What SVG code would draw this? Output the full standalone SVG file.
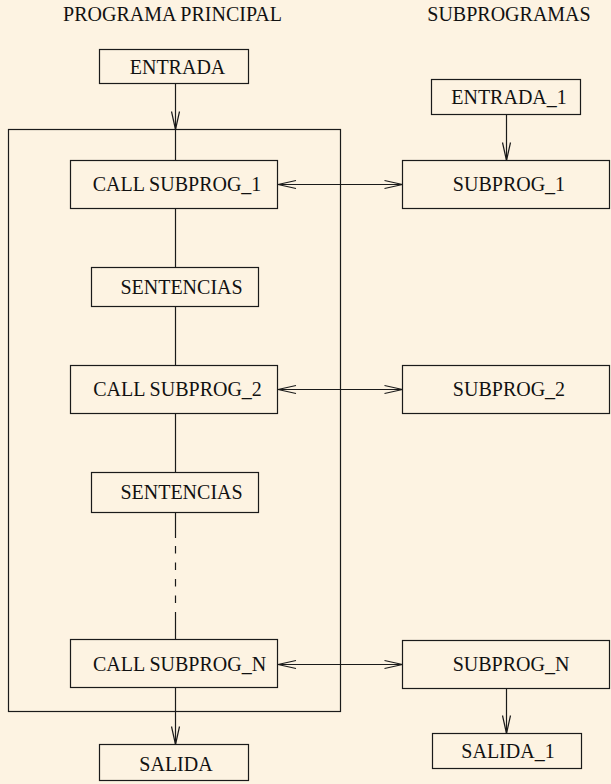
<svg xmlns="http://www.w3.org/2000/svg" width="611" height="784" viewBox="0 0 611 784">
<style>
.box{fill:none;stroke:#1a1a1a;stroke-width:1.2}
.ln{fill:none;stroke:#1a1a1a;stroke-width:1.2}
text{font-family:"Liberation Serif","Times New Roman",serif;font-size:20px;fill:#111;text-anchor:middle}
</style>
<defs>
<marker id="ah" markerUnits="userSpaceOnUse" markerWidth="24" markerHeight="12" viewBox="-20 -6 24 12" refX="0" refY="0" orient="auto-start-reverse">
<path d="M-18,-4 L0,0 L-18,4" fill="none" stroke="#1a1a1a" stroke-width="1.2"/>
</marker>
</defs>
<rect width="611" height="784" fill="#fdf3e2"/>
<g id="titles">
<text x="172.5" y="21">PROGRAMA PRINCIPAL</text>
<text x="509" y="21">SUBPROGRAMAS</text>
</g>
<g id="main-frame"><rect class="box" x="8.5" y="129.5" width="332" height="582"/></g>
<g id="entrada"><rect class="box" x="99.5" y="49.5" width="149" height="34"/><text x="177.5" y="74">ENTRADA</text></g>
<g id="call1"><rect class="box" x="70.5" y="160.5" width="207" height="48"/><text x="177" y="191">CALL SUBPROG_1</text></g>
<g id="sent1"><rect class="box" x="91.5" y="267.5" width="167" height="39"/><text x="181.5" y="294">SENTENCIAS</text></g>
<g id="call2"><rect class="box" x="70.5" y="365.5" width="207" height="48"/><text x="177.5" y="396">CALL SUBPROG_2</text></g>
<g id="sent2"><rect class="box" x="91.5" y="472.5" width="167" height="40"/><text x="181.5" y="499">SENTENCIAS</text></g>
<g id="calln"><rect class="box" x="70.5" y="639.5" width="207" height="48"/><text x="179.5" y="671">CALL SUBPROG_N</text></g>
<g id="salida"><rect class="box" x="99.5" y="744.5" width="149" height="36"/><text x="176" y="771">SALIDA</text></g>
<g id="entrada1"><rect class="box" x="431.5" y="79.5" width="149" height="35"/><text x="509" y="104">ENTRADA_1</text></g>
<g id="sub1"><rect class="box" x="402.5" y="160.5" width="207" height="48"/><text x="509" y="191">SUBPROG_1</text></g>
<g id="sub2"><rect class="box" x="402.5" y="365.5" width="207" height="48"/><text x="509" y="396">SUBPROG_2</text></g>
<g id="subn"><rect class="box" x="402.5" y="640.5" width="207" height="48"/><text x="511" y="671">SUBPROG_N</text></g>
<g id="salida1"><rect class="box" x="432.5" y="733.5" width="149" height="35"/><text x="508" y="758">SALIDA_1</text></g>
<g id="connectors">
<line class="ln" x1="175.5" y1="84" x2="175.5" y2="129.5" marker-end="url(#ah)"/>
<line class="ln" x1="175.5" y1="129.5" x2="175.5" y2="160.5"/>
<line class="ln" x1="175.5" y1="208.5" x2="175.5" y2="267.5"/>
<line class="ln" x1="175.5" y1="306.5" x2="175.5" y2="365.5"/>
<line class="ln" x1="175.5" y1="413.5" x2="175.5" y2="472.5"/>
<line class="ln" x1="175.5" y1="512.5" x2="175.5" y2="538"/>
<line class="ln" x1="175.5" y1="546" x2="175.5" y2="604" stroke-dasharray="7.5 9"/>
<line class="ln" x1="175.5" y1="612" x2="175.5" y2="639.5"/>
<line class="ln" x1="175.5" y1="688" x2="175.5" y2="744.5" marker-end="url(#ah)"/>
<line class="ln" x1="506.5" y1="115" x2="506.5" y2="160.5" marker-end="url(#ah)"/>
<line class="ln" x1="506.5" y1="689" x2="506.5" y2="733.5" marker-end="url(#ah)"/>
<line class="ln" x1="278" y1="184.5" x2="402.5" y2="184.5" marker-start="url(#ah)" marker-end="url(#ah)"/>
<line class="ln" x1="278" y1="389.5" x2="402.5" y2="389.5" marker-start="url(#ah)" marker-end="url(#ah)"/>
<line class="ln" x1="278" y1="664.5" x2="402.5" y2="664.5" marker-start="url(#ah)" marker-end="url(#ah)"/>
</g>
</svg>
